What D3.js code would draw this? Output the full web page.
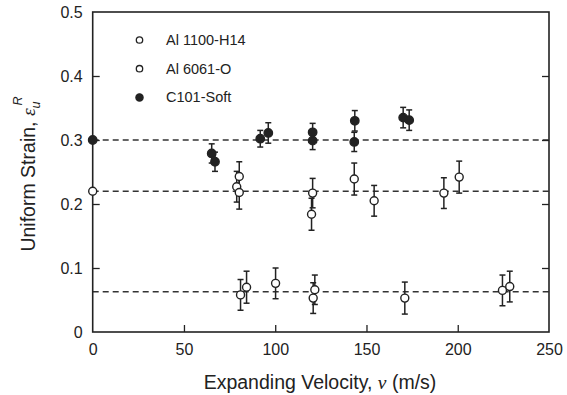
<!DOCTYPE html>
<html><head><meta charset="utf-8">
<script src="https://cdn.jsdelivr.net/npm/d3@7"></script>
<style>body{margin:0;background:#fff}svg{display:block}</style>
</head><body>
<svg id="c" width="567" height="395"></svg>
<script>
// ---- data ----
const xTicks = [0, 50, 100, 150, 200, 250];
const yTicks = [0, 0.1, 0.2, 0.3, 0.4, 0.5];
const refLines = [0.30, 0.22, 0.063];

const h14V = [81, 84.3, 100.2, 120.8, 121.7, 171, 224.5, 228.5];
const h14S = [0.058, 0.070, 0.076, 0.053, 0.066, 0.053, 0.065, 0.071];
const h14E = [0.024, 0.025, 0.024, 0.024, 0.023, 0.025, 0.024, 0.024];

const o6061V = [0, 78.9, 80.3, 80.3, 119.9, 120.5, 143.3, 154.2, 192.4, 200.8];
const o6061S = [0.22, 0.227, 0.243, 0.218, 0.184, 0.217, 0.239, 0.205, 0.217, 0.242];
const o6061E = [0, 0.024, 0.023, 0.026, 0.025, 0.023, 0.025, 0.024, 0.024, 0.025];

const c101V = [0, 65.2, 67, 91.8, 96.2, 120.5, 120.5, 143.3, 143.6, 170.1, 173.4];
const c101S = [0.30, 0.279, 0.266, 0.302, 0.311, 0.299, 0.312, 0.297, 0.330, 0.335, 0.331];
const c101E = [0, 0.015, 0.015, 0.013, 0.016, 0.014, 0.014, 0.015, 0.016, 0.016, 0.016];

const seriesNames = ["Al 1100-H14", "Al 6061-O", "C101-Soft"];

// ---- chart ----
const svg = d3.select("#c");
const ink = "#222";
const L = 92.7, R = 549, T = 12, B = 332;
const x = d3.scaleLinear().domain([0, 250]).range([L, R]);
const y = d3.scaleLinear().domain([0, 0.5]).range([B, T]);
const font = "Arial, 'Liberation Sans', Helvetica, sans-serif";

// reference dashed lines
svg.append("g").selectAll("line").data(refLines).join("line")
  .attr("x1", x(0)).attr("x2", x(250))
  .attr("y1", d => y(d)).attr("y2", d => y(d))
  .attr("stroke", "#333").attr("stroke-width", 1.6)
  .attr("stroke-dasharray", "6,4");

// axes
const tickStyle = g => {
  g.selectAll("text").attr("font-family", font).attr("font-size", 16).attr("fill", ink);
  g.selectAll("line").attr("stroke", ink).attr("stroke-width", 1.3);
  g.select(".domain").remove();
};
svg.append("g").attr("transform", `translate(0,${B})`)
  .call(d3.axisBottom(x).tickValues(xTicks).tickFormat(d3.format("d")).tickSizeInner(-7).tickPadding(12))
  .call(tickStyle)
  .call(g => g.selectAll("line").filter(d => d === 0 || d === 250).remove());
svg.append("g").attr("transform", `translate(${L},0)`)
  .call(d3.axisLeft(y).tickValues(yTicks).tickFormat(d => d === 0 ? "0" : d3.format(".1f")(d)).tickSizeInner(-7).tickPadding(10))
  .call(tickStyle)
  .call(g => g.selectAll("line").filter(d => d === 0 || d === 0.5).remove());
svg.append("g").attr("transform", `translate(${R},0)`)
  .call(d3.axisRight(y).tickValues(yTicks).tickFormat("").tickSizeInner(-7))
  .call(tickStyle)
  .call(g => g.selectAll("line").filter(d => d === 0 || d === 0.5).remove());

// frame
svg.append("rect").attr("x", L).attr("y", T).attr("width", R - L).attr("height", B - T)
  .attr("fill", "none").attr("stroke", ink).attr("stroke-width", 1.6);

// series
function draw(V, S, E, filled) {
  const data = V.map((v, i) => ({ v, s: S[i], e: E[i] }));
  const g = svg.append("g");
  const eb = data.filter(d => d.e > 0);
  g.selectAll(".eb").data(eb).join("line")
    .attr("x1", d => x(d.v)).attr("x2", d => x(d.v))
    .attr("y1", d => y(d.s - d.e)).attr("y2", d => y(d.s + d.e))
    .attr("stroke", ink).attr("stroke-width", 1.5);
  ["top", "bot"].forEach(k => {
    g.selectAll(".cap" + k).data(eb).join("line")
      .attr("x1", d => x(d.v) - 3).attr("x2", d => x(d.v) + 3)
      .attr("y1", d => y(k === "top" ? d.s + d.e : d.s - d.e))
      .attr("y2", d => y(k === "top" ? d.s + d.e : d.s - d.e))
      .attr("stroke", ink).attr("stroke-width", 1.5);
  });
  g.selectAll("circle").data(data).join("circle")
    .attr("cx", d => x(d.v)).attr("cy", d => y(d.s)).attr("r", filled ? 4.2 : 4)
    .attr("fill", filled ? ink : "#fff").attr("stroke", ink).attr("stroke-width", 1.4);
}
draw(o6061V, o6061S, o6061E, false);
draw(h14V, h14S, h14E, false);
draw(c101V, c101S, c101E, true);

// legend
const leg = svg.append("g");
seriesNames.forEach((n, i) => {
  const yy = 40 + i * 28.7;
  leg.append("circle").attr("cx", 139.5).attr("cy", yy).attr("r", i === 2 ? 3.6 : 3.2)
    .attr("fill", i === 2 ? ink : "#fff").attr("stroke", ink).attr("stroke-width", 1.3);
  leg.append("text").attr("x", 166).attr("y", yy + 5).text(n)
    .attr("font-family", font).attr("font-size", 14.5).attr("fill", ink);
});

// axis titles
const xt = svg.append("text").attr("x", 320).attr("y", 389).attr("text-anchor", "middle")
  .attr("font-family", font).attr("font-size", 19.5).attr("fill", ink);
xt.append("tspan").text("Expanding Velocity, ");
xt.append("tspan").attr("font-style", "italic").attr("font-family", "'Liberation Serif', serif").text("ν");
xt.append("tspan").text(" (m/s)");

const yt = svg.append("text").attr("transform", "translate(35,174) rotate(-90)").attr("text-anchor", "middle")
  .attr("font-family", font).attr("font-size", 19.5).attr("fill", ink);
yt.append("tspan").text("Uniform Strain, ");
yt.append("tspan").attr("font-style", "italic").attr("font-family", "'Liberation Serif', serif").text("ε");
yt.append("tspan").attr("font-style", "italic").attr("font-size", 12.5).attr("dy", 5).text("u");
yt.append("tspan").attr("font-style", "italic").attr("font-size", 12.5).attr("dx", -4).attr("dy", -18).text("R");
</script>
</body></html>
